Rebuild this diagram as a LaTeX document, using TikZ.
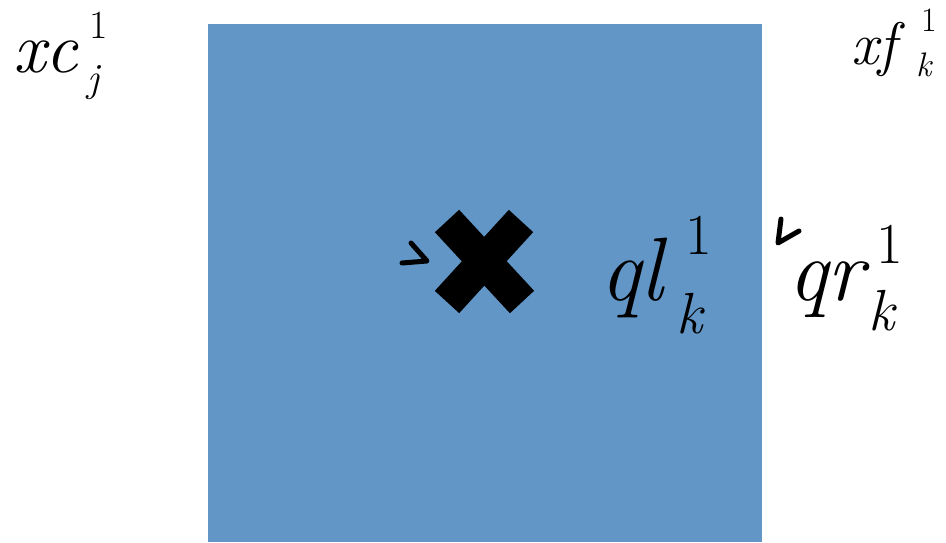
\documentclass[tikz,border=0pt]{standalone}
\usepackage{fontspec}
\definecolor{boxblue}{RGB}{97,150,199}
% #1 main size, #2 script size, #3 base, #4 sub, #5 sub kern, #6 sup kern, #7 sup raise, #8 sub lower
\newcommand\lab[8]{%
  {\fontsize{#1}{#1}\selectfont\itshape #3}%
  {\fontsize{#2}{#2}\selectfont
   \rlap{\kern#6pt\raisebox{#7pt}{\upshape 1}}%
   \kern#5pt\raisebox{-#8pt}{\itshape #4}}}
\tikzset{
  lbl/.style={inner sep=0pt, outer sep=0pt, anchor=base west, text=black},
  tick/.style={line width=5pt, line cap=round, line join=round, black},
  crossarm/.style={line width=33pt, line cap=butt, black}
}
\begin{document}
\begin{tikzpicture}[x=1pt,y=-1pt]
\useasboundingbox (0,0) rectangle (946,542);
\fill[boxblue] (208,24) rectangle (762,542);
\node[lbl] (xc) at (13,72) {\lab{72}{40}{xc}{j}{10}{12}{34}{19}};
\node[lbl] (xf) at (851,64) {\lab{60}{34}{xf}{k}{20}{25}{33}{12}};
\node[lbl] (ql) at (600,300) {\lab{90}{58}{ql}{k}{13}{22}{46}{33}};
\node[lbl] (qr) at (788,300) {\lab{88}{58}{qr}{k}{5}{13}{37}{30}};
\coordinate (c1a) at (447,221); \coordinate (c1b) at (522,302);
\coordinate (c2a) at (521,221); \coordinate (c2b) at (447,302);
\draw[crossarm] (c1a) -- (c1b);
\draw[crossarm] (c2a) -- (c2b);
\coordinate (t1a) at (411,243); \coordinate (t1b) at (427,261); \coordinate (t1c) at (402,263);
\draw[tick] (t1a) -- (t1b) -- (t1c);
\coordinate (t2a) at (781,219); \coordinate (t2b) at (778,243); \coordinate (t2c) at (799,231);
\draw[tick] (t2a) -- (t2b) -- (t2c);
\end{tikzpicture}
\end{document}
